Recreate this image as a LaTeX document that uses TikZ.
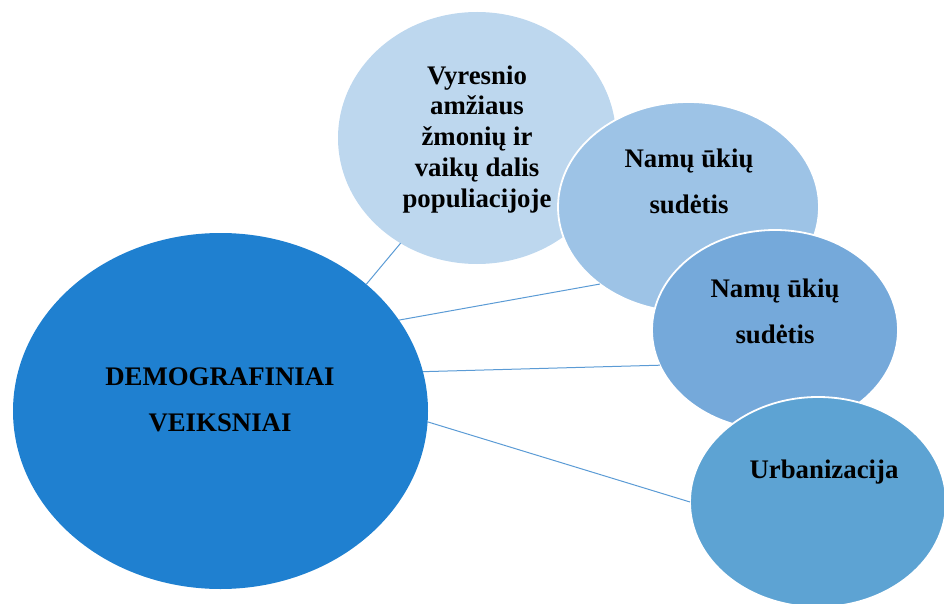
\documentclass[tikz,border=0pt]{standalone}
\usepackage{fontspec}
\setmainfont{Liberation Serif}
\usetikzlibrary{shapes.geometric}
\definecolor{cbig}{RGB}{31,128,208}
\definecolor{cone}{RGB}{189,215,238}
\definecolor{ctwo}{RGB}{157,195,230}
\definecolor{cthree}{RGB}{117,169,218}
\definecolor{cfour}{RGB}{93,163,211}
\definecolor{cline}{RGB}{91,155,213}
\begin{document}
\begin{tikzpicture}[x=1pt,y=-1pt,
  bub/.style={ellipse, inner sep=0pt, outer sep=0pt},
  rim/.style={draw=white, line width=1.8pt},
  lbl/.style={font=\bfseries\fontsize{26.8}{30.7}\selectfont, align=center, inner sep=0pt, anchor=base},
  lblw/.style={font=\bfseries\fontsize{26.8}{46}\selectfont, align=center, inner sep=0pt, anchor=base},
  conn/.style={draw=cline, line width=1pt}]
\useasboundingbox (0,0) rectangle (944,604);
\clip (0,0) rectangle (944,604);
\node[bub, fill=cone, minimum width=278pt, minimum height=252pt] (e1) at (477,138) {};
\node[bub, fill=ctwo, rim, minimum width=261pt, minimum height=210pt] (e2) at (688.5,207) {};
\node[bub, fill=cthree, rim, minimum width=246pt, minimum height=200pt] (e3) at (775,330) {};
\node[bub, fill=cfour, rim, minimum width=256pt, minimum height=210pt] (e4) at (818,502) {};
\node[bub, fill=cbig, minimum width=415pt, minimum height=356pt] (big) at (220.5,411) {};
\draw[conn] (big.41.6) -- (e1.234.3);
\draw[conn] (big.27) -- (e2.221.5);
\draw[conn] (big.11.3) -- (e3.197.1);
\draw[conn] (big.-3.4) -- (e4.180);
\node[lbl] (t1) at (477,207) {Vyresnio\\amžiaus\\žmonių ir\\vaikų dalis\\populiacijoje};
\node[lblw] (t2) at (689,213) {Namų ūkių\\sudėtis};
\node[lblw] (t3) at (775,343) {Namų ūkių\\sudėtis};
\node[lbl] (t4) at (824,478) {Urbanizacija};
\node[lblw] (t5) at (220,431) {DEMOGRAFINIAI\\VEIKSNIAI};
\end{tikzpicture}
\end{document}
